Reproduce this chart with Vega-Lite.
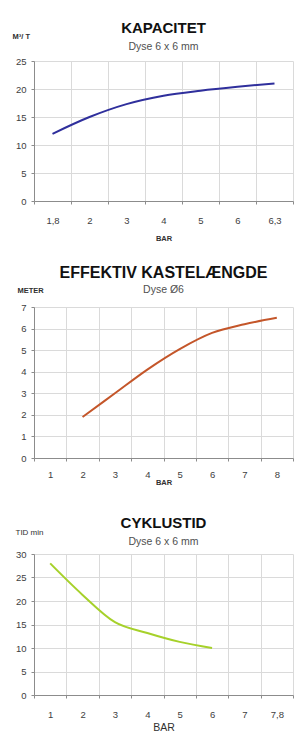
{
  "$schema": "https://vega.github.io/schema/vega-lite/v6.json",
  "padding": {"left": 12, "top": 20, "right": 0, "bottom": 0},
  "spacing": 22,
  "config": {
    "font": "Liberation Sans",
    "view": {"stroke": null},
    "axis": {
      "labelFont": "Liberation Sans",
      "labelFontSize": 9.5,
      "labelColor": "#404040",
      "gridColor": "#dadada",
      "gridWidth": 1,
      "domainColor": "#8c8c8c",
      "tickColor": "#8c8c8c",
      "tickSize": 3,
      "titleFont": "Liberation Sans",
      "titleColor": "#303030"
    },
    "title": {
      "font": "Liberation Sans",
      "fontSize": 15,
      "fontWeight": "bold",
      "color": "#111111",
      "subtitleFont": "Liberation Sans",
      "subtitleFontSize": 10.5,
      "subtitleColor": "#505050",
      "subtitlePadding": 6,
      "anchor": "middle",
      "frame": "group"
    }
  },
  "vconcat": [
    {
      "width": 259,
      "height": 140,
      "title": {"text": "KAPACITET", "subtitle": "Dyse 6 x 6 mm", "offset": -20},
      "data": {"values": [
        {"bar": "1,8", "v": 12},
        {"bar": "2", "v": 15},
        {"bar": "3", "v": 17.3},
        {"bar": "4", "v": 18.8},
        {"bar": "5", "v": 19.7},
        {"bar": "6", "v": 20.4},
        {"bar": "6,3", "v": 21}
      ]},
      "mark": {"type": "line", "color": "#2f2f9c", "strokeWidth": 2, "interpolate": "monotone"},
      "encoding": {
        "x": {"field": "bar", "type": "ordinal", "sort": null,
          "scale": {"type": "band", "domain": ["1,8", "2", "3", "4", "5", "6", "6,3"], "paddingInner": 0, "paddingOuter": 0},
          "axis": {"title": "BAR", "labelAngle": 0, "tickBand": "extent", "grid": true, "labelPadding": 11,
            "titleFontSize": 7.5, "titleFontWeight": "bold", "titlePadding": 10}},
        "y": {"field": "v", "type": "quantitative",
          "scale": {"domain": [0, 25], "nice": false},
          "axis": {"values": [0, 5, 10, 15, 20, 25], "title": "M³/ T", "titleAngle": 0, "titleAlign": "left",
            "titleBaseline": "middle", "titleX": -22, "titleY": -25, "titleFontSize": 7.5, "titleFontWeight": "bold", "labelPadding": 5}}
      }
    },
    {
      "width": 259,
      "height": 151,
      "title": {"text": "EFFEKTIV KASTELÆNGDE", "subtitle": "Dyse Ø6", "fontSize": 16, "subtitlePadding": 4, "offset": -9},
      "data": {"values": [
        {"bar": "2", "v": 1.9},
        {"bar": "3", "v": 3.0},
        {"bar": "4", "v": 4.1},
        {"bar": "5", "v": 5.05},
        {"bar": "6", "v": 5.8},
        {"bar": "7", "v": 6.2},
        {"bar": "8", "v": 6.5}
      ]},
      "mark": {"type": "line", "color": "#c4562a", "strokeWidth": 2, "interpolate": "monotone"},
      "encoding": {
        "x": {"field": "bar", "type": "ordinal", "sort": null,
          "scale": {"type": "band", "domain": ["1", "2", "3", "4", "5", "6", "7", "8"], "paddingInner": 0, "paddingOuter": 0},
          "axis": {"title": "BAR", "labelAngle": 0, "tickBand": "extent", "grid": true, "labelPadding": 8, "minExtent": 35,
            "titleFontSize": 7.5, "titleFontWeight": "bold", "titleBaseline": "middle", "titleY": 24}},
        "y": {"field": "v", "type": "quantitative",
          "scale": {"domain": [0, 7], "nice": false},
          "axis": {"values": [0, 1, 2, 3, 4, 5, 6, 7], "title": "METER", "titleAngle": 0, "titleAlign": "left",
            "titleBaseline": "middle", "titleX": -17, "titleY": -17, "titleFontSize": 7.5, "titleFontWeight": "bold", "labelPadding": 5}}
      }
    },
    {
      "width": 259,
      "height": 141,
      "title": {"text": "CYKLUSTID", "subtitle": "Dyse 6 x 6 mm", "offset": -19},
      "data": {"values": [
        {"bar": "1", "v": 28},
        {"bar": "2", "v": 21.3},
        {"bar": "3", "v": 15.5},
        {"bar": "4", "v": 13.2},
        {"bar": "5", "v": 11.3},
        {"bar": "6", "v": 10}
      ]},
      "mark": {"type": "line", "color": "#a6d12a", "strokeWidth": 2, "interpolate": "monotone"},
      "encoding": {
        "x": {"field": "bar", "type": "ordinal", "sort": null,
          "scale": {"type": "band", "domain": ["1", "2", "3", "4", "5", "6", "7", "7,8"], "paddingInner": 0, "paddingOuter": 0},
          "axis": {"title": "BAR", "labelAngle": 0, "tickBand": "extent", "grid": true, "labelPadding": 11,
            "titleFontSize": 10.5, "titleFontWeight": "normal", "titlePadding": 4}},
        "y": {"field": "v", "type": "quantitative",
          "scale": {"domain": [0, 30], "nice": false},
          "axis": {"values": [0, 5, 10, 15, 20, 25, 30], "title": "TID min", "titleAngle": 0, "titleAlign": "left",
            "titleBaseline": "middle", "titleX": -19, "titleY": -22, "titleFontSize": 8, "titleFontWeight": "normal", "labelPadding": 5}}
      }
    }
  ]
}
